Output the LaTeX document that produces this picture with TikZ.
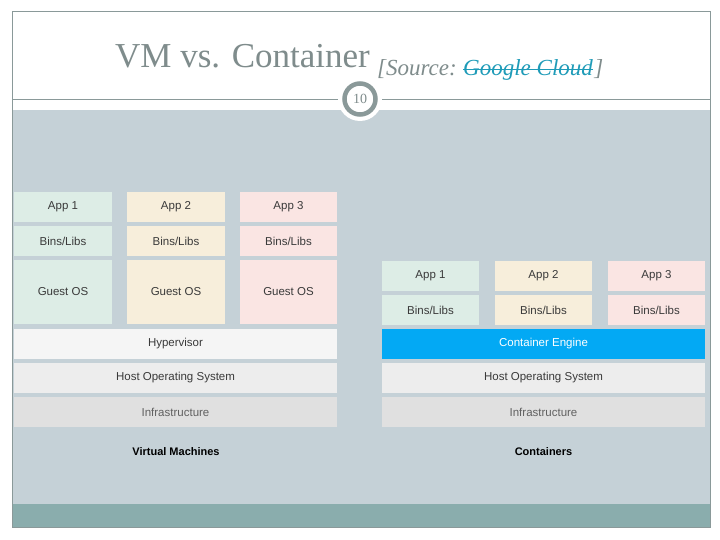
\documentclass[tikz,border=0pt]{standalone}
\usepackage{fontspec}
\setmainfont{Liberation Serif}
\setsansfont{Liberation Sans}
\definecolor{framec}{HTML}{8A9999}
\definecolor{bgc}{HTML}{C5D1D7}
\definecolor{bandc}{HTML}{8AADAD}
\definecolor{titlec}{HTML}{7F8C8C}
\definecolor{linkc}{HTML}{1E9BB8}
\definecolor{greenc}{HTML}{DDEDE6}
\definecolor{yellowc}{HTML}{F7EEDB}
\definecolor{pinkc}{HTML}{FAE5E3}
\definecolor{hyperc}{HTML}{F5F5F5}
\definecolor{hostc}{HTML}{EDEDED}
\definecolor{infrac}{HTML}{E0E0E0}
\definecolor{enginec}{HTML}{03A9F4}
\definecolor{boxtext}{HTML}{3A3A3A}
\begin{document}
\begin{tikzpicture}[x=1pt,y=-1pt,
  box/.style={draw=none,inner sep=0pt,text=boxtext,font=\sffamily\fontsize{11.5}{13}\selectfont},
  col/.style={box,minimum width=97pt,minimum height=30pt},
  wide/.style={box,minimum width=323pt,minimum height=30pt},
  srcfont/.style={anchor=base west,inner sep=0pt,font=\itshape\fontsize{23}{26}\selectfont},
  caption/.style={font=\sffamily\bfseries\fontsize{11}{13}\selectfont,text=black,inner sep=0pt}]
\useasboundingbox (0,0) rectangle (720,540);
\fill[white] (0,0) rectangle (720,540);
% diagram background and band
\fill[bgc] (12,110) rectangle (710,504);
\fill[bandc] (12,504) rectangle (710,527);
% outer frame
\draw[framec,line width=1pt] (12,12) rectangle (710,527);
% header line
\draw[framec,line width=1pt] (12,100) -- (710,100);
% page number circle
\fill[white] (360,99) circle[radius=22];
\draw[framec,line width=4.5pt,fill=white] (360,99) circle[radius=15.5];
\node[text=titlec,font=\fontsize{14}{16}\selectfont,inner sep=0pt] (pg) at (360,99) {10};
% title
\node[anchor=base west,inner sep=0pt,text=titlec,font=\fontsize{35}{40}\selectfont] (title) at (115,68) {VM vs. Container};
\node[srcfont,text=titlec] (srcpre) at (377,76) {[Source:};
\node[srcfont,text=linkc] (gc) at ([xshift=6pt]srcpre.base east) {Google Cloud};
\node[srcfont,text=titlec] (srcpost) at ([xshift=1pt]gc.base east) {]};
\draw[linkc,line width=1.6pt] ([yshift=6.5pt]gc.base west) -- ([yshift=6.5pt]gc.base east);
% VM side
\node[col,fill=greenc,minimum width=98pt] (va1) at (63,207) {App 1};
\node[col,fill=yellowc,minimum width=98pt] (va2) at (176,207) {App 2};
\node[col,fill=pinkc] (va3) at (288.5,207) {App 3};
\node[col,fill=greenc,minimum width=98pt] (vb1) at (63,241) {Bins/Libs};
\node[col,fill=yellowc,minimum width=98pt] (vb2) at (176,241) {Bins/Libs};
\node[col,fill=pinkc] (vb3) at (288.5,241) {Bins/Libs};
\node[col,fill=greenc,minimum width=98pt,minimum height=64pt] (vg1) at (63,292) {Guest OS};
\node[col,fill=yellowc,minimum width=98pt,minimum height=64pt] (vg2) at (176,292) {Guest OS};
\node[col,fill=pinkc,minimum height=64pt] (vg3) at (288.5,292) {Guest OS};
\node[wide,fill=hyperc] (hyp) at (175.5,344) {Hypervisor};
\node[wide,fill=hostc] (vhost) at (175.5,378) {Host Operating System};
\node[wide,fill=infrac,text=boxtext!80] (vinf) at (175.5,412) {Infrastructure};
\node[caption] (vmcap) at (176,452) {Virtual Machines};
% Container side
\node[col,fill=greenc] (ca1) at (430.5,276) {App 1};
\node[col,fill=yellowc] (ca2) at (543.5,276) {App 2};
\node[col,fill=pinkc] (ca3) at (656.5,276) {App 3};
\node[col,fill=greenc] (cb1) at (430.5,310) {Bins/Libs};
\node[col,fill=yellowc] (cb2) at (543.5,310) {Bins/Libs};
\node[col,fill=pinkc] (cb3) at (656.5,310) {Bins/Libs};
\node[wide,fill=enginec,text=white] (eng) at (543.5,344) {Container Engine};
\node[wide,fill=hostc] (chost) at (543.5,378) {Host Operating System};
\node[wide,fill=infrac,text=boxtext!80] (cinf) at (543.5,412) {Infrastructure};
\node[caption] (ccap) at (543.5,452) {Containers};
\end{tikzpicture}
\end{document}
